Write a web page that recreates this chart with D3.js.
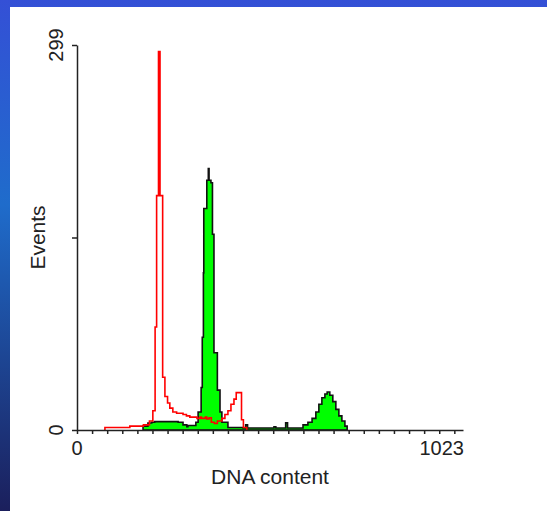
<!DOCTYPE html>
<html>
<head>
<meta charset="utf-8">
<script src="https://cdn.jsdelivr.net/npm/d3@7"></script>
<style>
  html, body { margin: 0; padding: 0; }
  body { width: 547px; height: 511px; overflow: hidden; }
  text { font-family: "Liberation Sans", Arial, sans-serif; fill: #222; }
</style>
</head>
<body>
<div id="chart"></div>
<script>
// histogram steps: channel where each step starts, and its event count
const redEdges  = [74, 140, 176, 192, 201, 207, 211, 216, 220, 227, 233, 240, 246, 254, 264, 281, 290, 299, 318, 326, 330, 340, 344, 350, 356, 364, 372, 384, 392, 400, 408, 416, 422, 436, 441, 450];
const redCounts = [2, 3, 4, 7, 15, 80, 182, 294, 182, 41, 26, 21, 17, 14, 13, 12, 11, 10, 9, 10, 9, 10, 8.5, 9.5, 6, 5, 7, 9, 12, 15, 20, 24, 29, 8, 2, 0];

const greenEdges  = [175, 188, 198, 206, 268, 281, 291, 294, 315, 321, 329, 332, 335, 336, 344, 348, 350, 355, 359, 363, 372, 379, 384, 400, 440, 447, 452, 522, 527, 553, 558, 599, 612, 623, 633, 641, 649, 657, 663, 670, 678, 686, 694, 702, 710, 716];
const greenCounts = [3, 5.4, 6, 6.5, 6, 4, 2.5, 3.5, 6, 14, 33, 72, 122, 172, 194, 203, 194, 192, 152, 60, 31, 14, 6, 2, 1.5, 4, 1.5, 2.5, 1.5, 5.5, 1.5, 4, 6, 9, 14, 20, 25, 28, 29.5, 27, 22, 16, 11, 7, 3, 0];

const xTicks = d3.range(0, 1001, 40);
const yTicks = [0, 149.5, 299];
const xLabels = [0, 1023];
const yLabels = [0, 299];

const width = 547, height = 511;

const svg = d3.select("#chart").append("svg")
    .attr("width", width)
    .attr("height", height);

// blue slide background
const grad = svg.append("defs").append("linearGradient")
    .attr("id", "bg").attr("x1", 0).attr("y1", 0).attr("x2", 0).attr("y2", 1);
grad.append("stop").attr("offset", "0%").attr("stop-color", "#3450d6");
grad.append("stop").attr("offset", "40%").attr("stop-color", "#1f6ccb");
grad.append("stop").attr("offset", "100%").attr("stop-color", "#1b1f5c");
svg.append("rect").attr("width", width).attr("height", height).attr("fill", "url(#bg)");
svg.append("rect").attr("x", 10).attr("y", 7).attr("width", width - 10).attr("height", height - 7).attr("fill", "#fff");

const x = d3.scaleLinear().domain([0, 1023]).range([77, 463]);
const y = d3.scaleLinear().domain([0, 299]).range([430, 45]);

function stepPoints(edges, counts) {
    const pts = [[edges[0], 0]];
    for (let i = 0; i < edges.length - 1; i++) {
        pts.push([edges[i], counts[i]]);
        pts.push([edges[i + 1], counts[i]]);
    }
    pts.push([edges[edges.length - 1], 0]);
    return pts;
}

const line = d3.line().x(d => x(d[0])).y(d => y(d[1]));

svg.append("path")
    .attr("d", line(stepPoints(greenEdges, greenCounts)) + "Z")
    .attr("fill", "#00ff00")
    .attr("stroke", "#111")
    .attr("stroke-width", 1.6)
    .attr("stroke-linejoin", "miter");

svg.append("path")
    .attr("d", line(stepPoints(redEdges, redCounts)))
    .attr("fill", "none")
    .attr("stroke", "#ff0000")
    .attr("stroke-width", 1.6);

// axes
const xAxis = svg.append("g").attr("transform", `translate(0,${y(0)})`)
    .call(d3.axisBottom(x).tickValues(xTicks).tickFormat("").tickSize(4).tickSizeOuter(0));
const yAxis = svg.append("g").attr("transform", `translate(${x(0)},0)`)
    .call(d3.axisLeft(y).tickValues(yTicks).tickFormat("").tickSize(5).tickSizeOuter(0));
[xAxis, yAxis].forEach(g => {
    g.selectAll("path, line").attr("stroke", "#222").attr("stroke-width", 1.5);
});

svg.selectAll(".xl").data(xLabels).enter().append("text")
    .attr("x", (d, i) => i === 0 ? x(d) : x(d) + 1)
    .attr("y", 455)
    .attr("text-anchor", (d, i) => i === 0 ? "middle" : "end")
    .style("font-size", "20px")
    .text(d => d);

svg.selectAll(".yl").data(yLabels).enter().append("text")
    .attr("transform", d => `translate(63,${y(d)}) rotate(-90)`)
    .attr("text-anchor", "middle")
    .style("font-size", "20px")
    .text(d => d);

svg.append("text")
    .attr("x", (x.range()[0] + x.range()[1]) / 2)
    .attr("y", 484)
    .attr("text-anchor", "middle")
    .style("font-size", "21px")
    .text("DNA content");

svg.append("text")
    .attr("transform", `translate(45,${(y.range()[0] + y.range()[1]) / 2}) rotate(-90)`)
    .attr("text-anchor", "middle")
    .style("font-size", "21px")
    .text("Events");
</script>
</body>
</html>
